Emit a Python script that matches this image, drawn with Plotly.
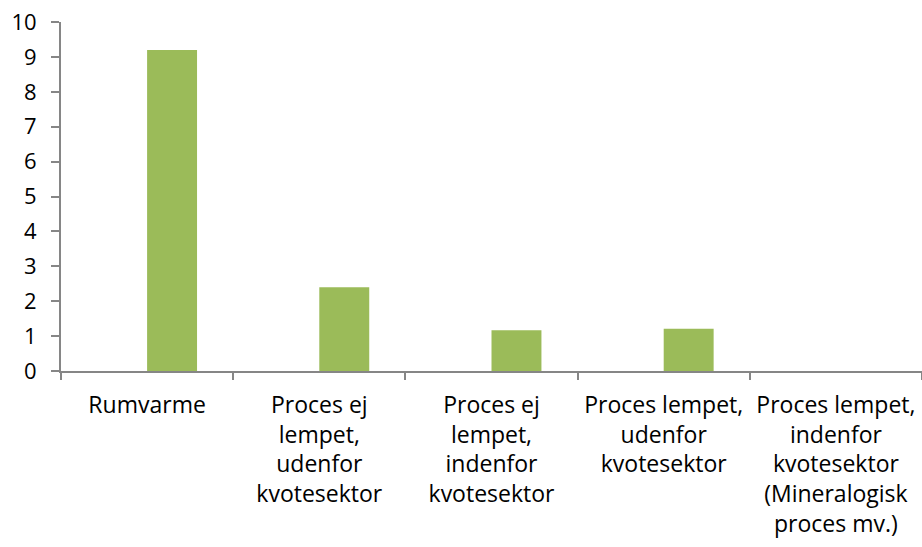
import plotly.graph_objects as go

# Categories and values
categories = [
    "Rumvarme",
    "Proces ej<br>lempet,<br>udenfor<br>kvotesektor",
    "Proces ej<br>lempet,<br>indenfor<br>kvotesektor",
    "Proces lempet,<br>udenfor<br>kvotesektor",
    "Proces lempet,<br>indenfor<br>kvotesektor<br>(Mineralogisk<br>proces mv.)",
]
values = [9.2, 2.4, 1.17, 1.21, 0]
y_ticks = list(range(0, 11))

axis_color = "#868686"

fig = go.Figure(go.Bar(
    x=categories,
    y=values,
    offset=0,
    width=0.29,
    marker=dict(color="#9BBB59", line=dict(width=0)),
))

fig.update_layout(
    width=922, height=547,
    margin=dict(l=61, r=0, t=22, b=176),
    paper_bgcolor="white",
    plot_bgcolor="white",
    showlegend=False,
    font=dict(family="Open Sans", size=22, color="black"),
)

fig.update_xaxes(
    showline=True, linecolor=axis_color, linewidth=2,
    ticks="outside", tickson="boundaries", ticklen=7, tickwidth=2, tickcolor=axis_color,
    showgrid=False, automargin=False,
    tickfont=dict(size=23), ticklabelstandoff=12,
)
fig.update_yaxes(
    range=[0, 10], tickvals=y_ticks,
    showline=True, linecolor=axis_color, linewidth=2,
    ticks="outside", ticklen=8, tickwidth=2, tickcolor=axis_color,
    showgrid=False, zeroline=False, automargin=False,
    ticklabelstandoff=10,
)

# drop the default body margin so the figure sits flush in the window
fig.write_html(
    "out.html",
    config={"displayModeBar": False},
    post_script="document.body.style.margin='0';document.body.style.overflow='hidden';",
)
